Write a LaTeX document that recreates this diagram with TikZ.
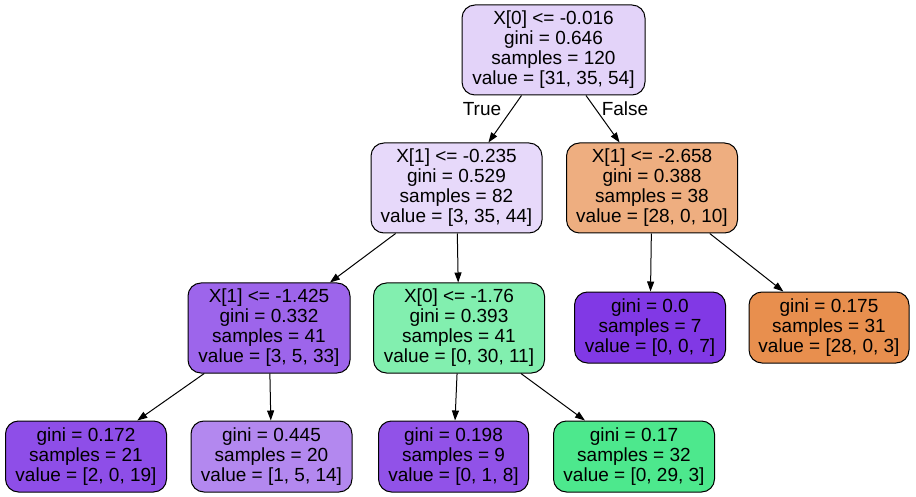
\documentclass[tikz,border=0pt]{standalone}
\usepackage{fontspec}
\setmainfont{Liberation Sans}
\usetikzlibrary{arrows.meta}
\definecolor{c0}{RGB}{227,211,249}
\definecolor{c1}{RGB}{231,217,250}
\definecolor{c2}{RGB}{238,174,128}
\definecolor{c3}{RGB}{157,101,235}
\definecolor{c4}{RGB}{130,239,175}
\definecolor{c5}{RGB}{129,57,229}
\definecolor{c6}{RGB}{232,143,78}
\definecolor{c7}{RGB}{142,78,232}
\definecolor{c8}{RGB}{179,136,239}
\definecolor{c9}{RGB}{145,82,232}
\definecolor{c10}{RGB}{77,232,141}
\tikzset{
  treenode/.style={draw=black, line width=1pt, rounded corners=13pt, inner sep=0pt,
    align=center, font=\fontsize{19pt}{20pt}\selectfont, text=black},
  split/.style={treenode, minimum height=90pt},
  leaf/.style={treenode, minimum height=71pt},
  edge/.style={draw=black, line width=1pt, -{Triangle[length=10pt,width=7pt]}},
  edgelabel/.style={font=\fontsize{19pt}{20pt}\selectfont, inner sep=0pt}
}
\begin{document}
\begin{tikzpicture}[x=1pt,y=-1pt]
\useasboundingbox (0,0) rectangle (916,497);
\node[split, fill=c0, minimum width=183pt] (n0) at (553.5,50) {X[0] <= -0.016\\gini = 0.646\\samples = 120\\value = [31, 35, 54]};
\node[split, fill=c1, minimum width=171pt] (n1) at (456.5,188) {X[1] <= -0.235\\gini = 0.529\\samples = 82\\value = [3, 35, 44]};
\node[split, fill=c2, minimum width=171pt] (n2) at (652,188) {X[1] <= -2.658\\gini = 0.388\\samples = 38\\value = [28, 0, 10]};
\node[split, fill=c3, minimum width=162pt] (n3) at (269,328) {X[1] <= -1.425\\gini = 0.332\\samples = 41\\value = [3, 5, 33]};
\node[split, fill=c4, minimum width=171pt] (n4) at (459,328) {X[0] <= -1.76\\gini = 0.393\\samples = 41\\value = [0, 30, 11]};
\node[leaf, fill=c5, minimum width=151pt] (n5) at (650,327.5) {gini = 0.0\\samples = 7\\value = [0, 0, 7]};
\node[leaf, fill=c6, minimum width=160pt] (n6) at (829,327.5) {gini = 0.175\\samples = 31\\value = [28, 0, 3]};
\node[leaf, fill=c7, minimum width=161pt] (n7) at (86,456.5) {gini = 0.172\\samples = 21\\value = [2, 0, 19]};
\node[leaf, fill=c8, minimum width=161pt] (n8) at (271.5,456.5) {gini = 0.445\\samples = 20\\value = [1, 5, 14]};
\node[leaf, fill=c9, minimum width=150pt] (n9) at (453.5,456.5) {gini = 0.198\\samples = 9\\value = [0, 1, 8]};
\node[leaf, fill=c10, minimum width=161pt] (n10) at (634,456.5) {gini = 0.17\\samples = 32\\value = [0, 29, 3]};
\draw[edge] (n0) -- (n1);
\draw[edge] (n0) -- (n2);
\draw[edge] (n1) -- (n3);
\draw[edge] (n1) -- (n4);
\draw[edge] (n2) -- (n5);
\draw[edge] (n2) -- (n6);
\draw[edge] (n3) -- (n7);
\draw[edge] (n3) -- (n8);
\draw[edge] (n4) -- (n9);
\draw[edge] (n4) -- (n10);
\node[edgelabel] (lt) at (482,109) {True};
\node[edgelabel] (lf) at (625,109) {False};
\end{tikzpicture}
\end{document}
